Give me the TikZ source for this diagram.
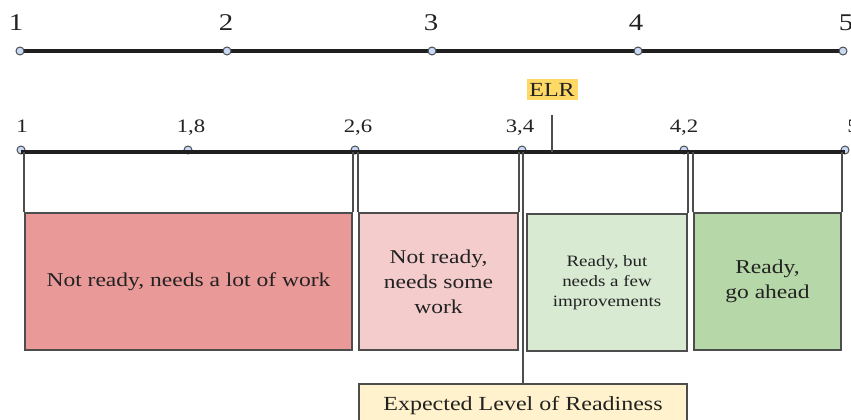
\documentclass[tikz,border=0pt]{standalone}
\usepackage{fontspec}
\setmainfont{Liberation Serif}[FakeStretch=1.2]
\definecolor{redA}{HTML}{EA9999}
\definecolor{redB}{HTML}{F4CCCC}
\definecolor{greenA}{HTML}{D9EAD3}
\definecolor{greenB}{HTML}{B6D7A8}
\definecolor{yelA}{HTML}{FFF2CC}
\definecolor{yelB}{HTML}{FFD966}
\definecolor{dotc}{HTML}{C9DAF8}
\definecolor{edge}{HTML}{4D4D4D}
\definecolor{txt}{HTML}{222222}
\tikzset{
  axisline/.style={line width=3.5pt, color=black!88},
  tickdot/.style={circle, draw=edge, line width=1pt, fill=dotc, minimum size=8pt, inner sep=0pt},
  vline/.style={line width=1.6pt, color=edge},
  rbox/.style={draw=edge, line width=1.6pt, align=center, text=txt, inner sep=2pt},
  biglab/.style={text=txt, font=\fontsize{24}{28}\selectfont, anchor=base},
  smalllab/.style={text=txt, font=\fontsize{19}{22}\selectfont, anchor=base},
  boxfont/.style={font=\fontsize{19.6}{25}\selectfont},
}
\begin{document}
\begin{tikzpicture}[x=1pt,y=-1pt]
\useasboundingbox (0,0) rectangle (851,420);
\clip (0,0) rectangle (851,420);
% top axis
\coordinate (ta) at (20,51);
\coordinate (tb) at (843,51);
\draw[axisline] (ta) -- (tb);
\foreach \x/\n in {20/1,227/2,432/3,638/4,843/5}{
  \node[tickdot] (top\n) at (\x,51) {};
}
\node[biglab] (l1) at (16,31) {1};
\node[biglab] (l2) at (226,31) {2};
\node[biglab] (l3) at (431,31) {3};
\node[biglab] (l4) at (636,31) {4};
\node[biglab] (l5) at (846,31) {5};
% second axis
\foreach \x/\n in {21/a,188/b,355/c,522/d,684/e,845/f}{
  \node[tickdot] (sd\n) at (\x,150) {};
}
\coordinate (sa) at (21,152);
\coordinate (sb) at (845,152);
\draw[axisline] (sa) -- (sb);
\node[smalllab] (m1) at (22,132) {1};
\node[smalllab] (m2) at (191,132) {1,8};
\node[smalllab] (m3) at (358,132) {2,6};
\node[smalllab] (m4) at (520,132) {3,4};
\node[smalllab] (m5) at (684,132) {4,2};
\node[smalllab] (m6) at (853,132) {5};
% ELR marker
\node[fill=yelB, text=txt, inner sep=2pt, minimum width=51pt, minimum height=21pt, font=\fontsize{20}{22}\selectfont] (elr) at (552,89.5) {ELR};
\coordinate (elrtop) at (552,115);
\coordinate (elrbot) at (552,152);
\draw[vline] (elrtop) -- (elrbot);
% boxes
\node[rbox, fill=redA, minimum width=327pt, minimum height=137pt, boxfont] (b1) at (188.5,281.5) {Not ready, needs a lot of work};
\node[rbox, fill=redB, minimum width=159pt, minimum height=137pt, boxfont] (b2) at (438.5,281.5) {Not ready,\\needs some\\work};
\node[rbox, fill=greenA, minimum width=160pt, minimum height=137pt, font=\fontsize{15.8}{20}\selectfont] (b3) at (607,282.5) {Ready, but\\needs a few\\improvements};
\node[rbox, fill=greenB, minimum width=147pt, minimum height=137pt, boxfont] (b4) at (767.5,281.5) {Ready,\\go ahead};
\node[rbox, fill=yelA, minimum width=328pt, minimum height=44pt, anchor=north, font=\fontsize{20}{24}\selectfont] (exp) at (523,383) {Expected Level of Readiness};
% connectors from axis to boxes
\draw[vline] (b1.north west) -- (b1.north west |- sa);
\draw[vline] (b1.north east) -- (b1.north east |- sa);
\draw[vline] (b2.north west) -- (b2.north west |- sa);
\draw[vline] (b2.north east) -- (b2.north east |- sa);
\draw[vline] (b3.north east) -- (b3.north east |- sa);
\draw[vline] (b4.north west) -- (b4.north west |- sa);
\draw[vline] (b4.north east) -- (b4.north east |- sa);
\coordinate (t34) at (523,152);
\draw[vline] (t34) -- (exp.north);
\end{tikzpicture}
\end{document}
